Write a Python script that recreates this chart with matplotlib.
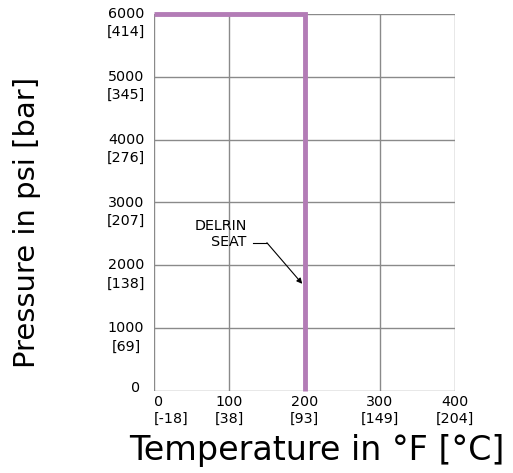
import matplotlib
matplotlib.use("Agg")
import matplotlib.pyplot as plt

plt.rcParams['font.family'] = ['DejaVu Sans']

# Data
temp_f_ticks = [0, 100, 200, 300, 400]
temp_c_labels = ['[-18]', '[38]', '[93]', '[149]', '[204]']
psi_ticks = [0, 1000, 2000, 3000, 4000, 5000, 6000]
bar_labels = ['', '[69]', '[138]', '[207]', '[276]', '[345]', '[414]']
seat_temp = [0, 200, 200]
seat_pressure = [6000, 6000, 0]

FS = 10.3
fig = plt.figure(figsize=(5.13, 4.73), dpi=100)
ax = fig.add_axes([154/513, 82/473, 301/513, 377/473])
ax.set_xlim(0, 400)
ax.set_ylim(0, 6000)

for x in temp_f_ticks:
    ax.axvline(x, color='#8a8a8a', lw=1.0, zorder=1)
for y in psi_ticks:
    ax.axhline(y, color='#8a8a8a', lw=1.0, zorder=1)
for s in ax.spines.values():
    s.set_visible(False)
ax.set_xticks([])
ax.set_yticks([])

ax.plot(seat_temp, seat_pressure, color='#b37cb6', lw=3.5, clip_on=False,
        zorder=3, solid_capstyle='butt', solid_joinstyle='miter')

# y tick labels
ytr = ax.get_yaxis_transform()
for p, b in zip(psi_ticks, bar_labels):
    if b:
        ax.text(-0.093, p, str(p), transform=ytr, ha='center', va='center', fontsize=FS)
        ax.text(-0.093, p - 290, b, transform=ytr, ha='center', va='center', fontsize=FS)
    else:
        ax.text(-0.06, p + 50, str(p), transform=ytr, ha='center', va='center', fontsize=FS)

# x tick labels
xtr = ax.get_xaxis_transform()
for t, c in zip(temp_f_ticks, temp_c_labels):
    ha = 'left' if t == 0 else 'center'
    ax.text(t, -0.028, str(t), transform=xtr, ha=ha, va='center', fontsize=FS)
    ax.text(t, -0.075, c, transform=xtr, ha=ha, va='center', fontsize=FS)

# annotation
ax.text(123, 2630, 'DELRIN', ha='right', va='center', fontsize=FS)
ax.text(123, 2376, 'SEAT', ha='right', va='center', fontsize=FS)
ax.plot([131, 150], [2360, 2360], color='black', lw=0.8, zorder=4)
ax.annotate('', xy=(197, 1706), xytext=(150, 2360),
            arrowprops=dict(arrowstyle='-|>', color='black', lw=0.8,
                            mutation_scale=8, shrinkA=0, shrinkB=0), zorder=4)

fig.text(317/513, 1 - 450/473, 'Temperature in °F [°C]', ha='center', va='center', fontsize=24)
fig.text(27/513, 1 - 222/473, 'Pressure in psi [bar]', ha='center', va='center',
         rotation=90, fontsize=20.9)

fig.savefig('out.png', dpi=100)
